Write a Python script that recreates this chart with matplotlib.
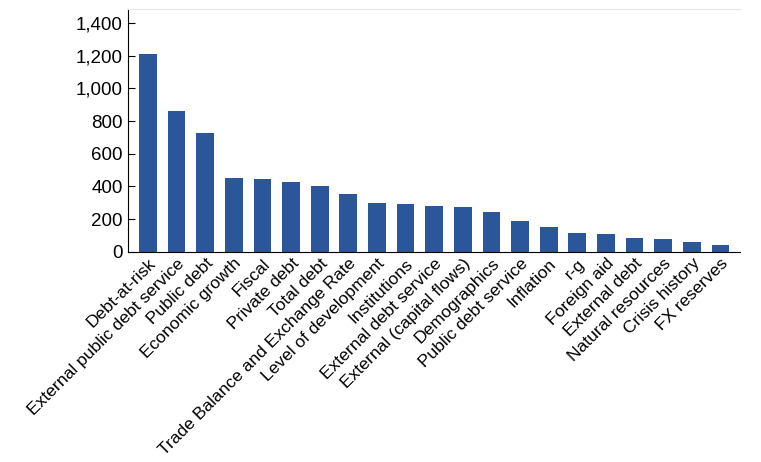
import matplotlib
matplotlib.use("Agg")
import matplotlib.pyplot as plt

categories = ["Debt-at-risk", "External public debt service", "Public debt",
              "Economic growth", "Fiscal", "Private debt", "Total debt",
              "Trade Balance and Exchange Rate", "Level of development",
              "Institutions", "External debt service", "External (capital flows)",
              "Demographics", "Public debt service", "Inflation", "r-g",
              "Foreign aid", "External debt", "Natural resources",
              "Crisis history", "FX reserves"]
values = [1210, 865, 725, 450, 448, 425, 400, 355, 298, 295, 280, 275,
          243, 190, 152, 118, 110, 85, 80, 58, 42]

plt.rcParams["font.family"] = ["Liberation Sans", "DejaVu Sans"]

fig = plt.figure(figsize=(7.61, 4.62), dpi=100)
ax = fig.add_axes([0.168, 0.455, 0.805, 0.525])
x = range(len(values))
ax.bar(x, values, width=0.62, color="#2b579a")
ax.set_xlim(-0.7, len(values) - 0.3)
ax.set_ylim(0, 1485)
ax.set_yticks(range(0, 1401, 200))
ax.set_yticklabels([f"{v:,}" for v in range(0, 1401, 200)], fontsize=13.5)
ax.set_xticks(list(x))
ax.set_xticklabels(categories, rotation=45, ha="right", rotation_mode="anchor",
                   fontsize=12.6)
ax.tick_params(axis="x", length=0, pad=3)
ax.tick_params(axis="y", length=5, direction="in")
ax.spines["top"].set_color("#e6e6e6")
ax.spines["right"].set_visible(False)
fig.savefig("out.png", dpi=100)
